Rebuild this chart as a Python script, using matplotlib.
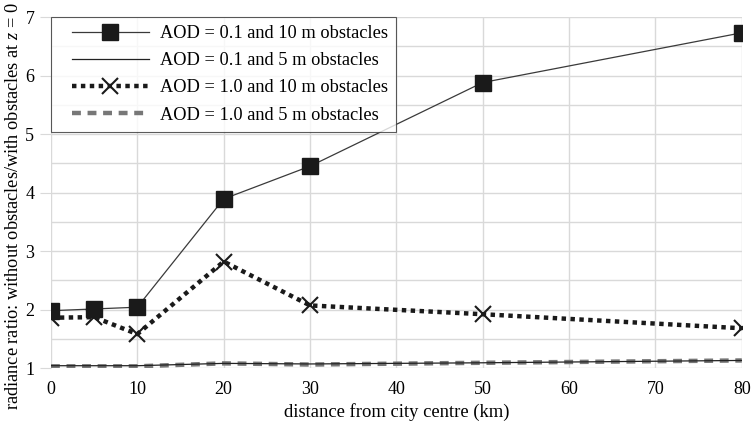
import matplotlib
matplotlib.use('Agg')
import matplotlib.pyplot as plt
from matplotlib.ticker import MultipleLocator
from matplotlib.legend_handler import HandlerLine2D

plt.rcParams['font.family'] = ['Liberation Serif', 'DejaVu Serif']
plt.rcParams['mathtext.fontset'] = 'custom'
plt.rcParams['mathtext.it'] = 'Liberation Serif:italic'
plt.rcParams['mathtext.rm'] = 'Liberation Serif'

distance = [0, 5, 10, 20, 30, 50, 80]
aod01_10m = [1.98, 2.01, 2.04, 3.89, 4.45, 5.88, 6.73]
aod01_5m = [1.04, 1.04, 1.04, 1.08, 1.07, 1.09, 1.13]
aod10_10m = [1.86, 1.87, 1.58, 2.82, 2.07, 1.92, 1.68]
aod10_5m = [1.03, 1.03, 1.03, 1.08, 1.06, 1.09, 1.13]

labels = ['AOD = 0.1 and 10 m obstacles', 'AOD = 0.1 and 5 m obstacles',
          'AOD = 1.0 and 10 m obstacles', 'AOD = 1.0 and 5 m obstacles']


class InsetHandler(HandlerLine2D):
    # leaves some blank room on the left of each legend handle
    def get_xdata(self, legend, xdescent, ydescent, width, height, fontsize):
        inset = 9
        return super().get_xdata(legend, xdescent - inset, ydescent,
                                 width - inset, height, fontsize)


fig = plt.figure(figsize=(7.55, 4.25), dpi=100)
ax = fig.add_axes([0.0675, 0.134, 0.915, 0.826])

ax.plot(distance, aod01_10m, color='#3a3a3a', lw=0.9, marker='s', ms=11,
        mfc='#1a1a1a', mec='#1a1a1a', label=labels[0], zorder=4)
ax.plot(distance, aod01_5m, color='#222222', lw=0.9, label=labels[1], zorder=3)
ax.plot(distance, aod10_10m, color='#1a1a1a', lw=3.2, ls=(0, (1, 1)),
        marker='x', ms=11, mew=1.5, label=labels[2], zorder=5)
ax.plot(distance, aod10_5m, color='#777777', lw=3.2, ls=(0, (2, 1.5)),
        label=labels[3], zorder=2)

ax.set_xlim(0, 80)
ax.set_ylim(1, 7)
ax.xaxis.set_major_locator(MultipleLocator(10))
ax.yaxis.set_major_locator(MultipleLocator(1))
ax.yaxis.set_minor_locator(MultipleLocator(0.5))
ax.grid(True, which='both', color='#d9d9d9', lw=1)
ax.set_axisbelow(True)
for s in ax.spines.values():
    s.set_visible(False)
ax.tick_params(axis='x', length=0, labelsize=13, pad=9)
ax.tick_params(axis='y', which='major', length=8, color='#d9d9d9', labelsize=13, pad=4)
ax.tick_params(axis='y', which='minor', length=0)

ax.set_xlabel('distance from city centre (km)', fontsize=13.4, labelpad=4)
ax.set_ylabel('radiance ratio: without obstacles/with obstacles at $z$ = 0',
              fontsize=13.2, y=0.46, labelpad=2)

leg = ax.legend(loc='upper left', fontsize=13.2, handlelength=4.9, frameon=True,
                fancybox=False, edgecolor='#333333', borderaxespad=0,
                labelspacing=0.55, borderpad=0.45, handletextpad=0.6,
                handler_map={ln: InsetHandler() for ln in ax.get_lines()})
leg.get_frame().set_linewidth(0.8)

fig.savefig('out.png', dpi=100)
